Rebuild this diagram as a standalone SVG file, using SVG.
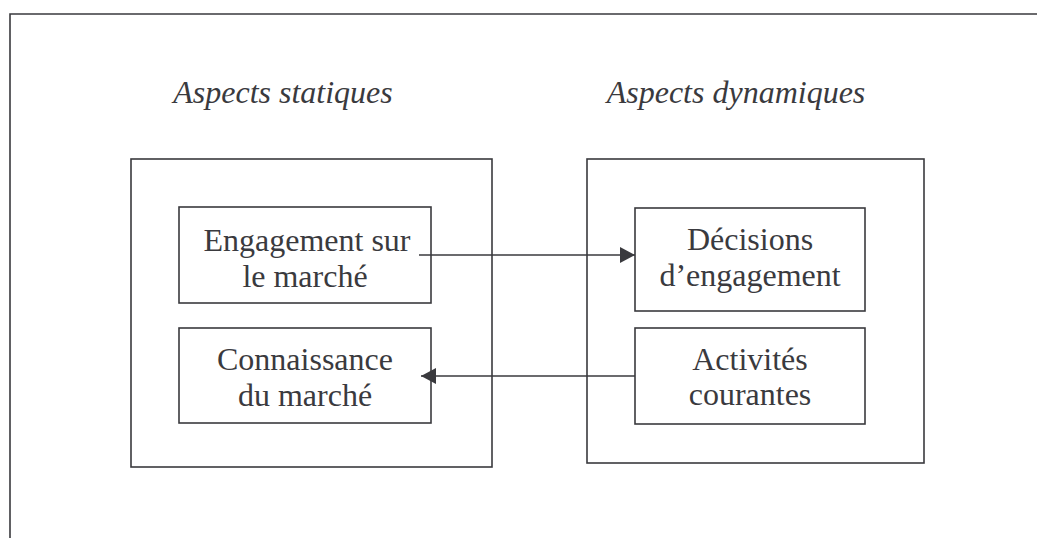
<svg xmlns="http://www.w3.org/2000/svg" width="1037" height="538" viewBox="0 0 1037 538">
  <defs>
    <style>
      .box { fill: none; stroke: #3a3a3e; stroke-width: 1.6; }
      .lbl { font-family: "Liberation Serif", "Times New Roman", serif; font-size: 32px; fill: #3a3a3e; text-anchor: middle; }
      .ttl { font-style: italic; }
      .conn { stroke: #3a3a3e; stroke-width: 1.6; fill: none; }
    </style>
    <marker id="ah" viewBox="0 0 15 16" refX="15" refY="8" markerWidth="15" markerHeight="16" markerUnits="userSpaceOnUse" orient="auto">
      <path d="M0,0 L15,8 L0,16 Z" fill="#3a3a3e"/>
    </marker>
  </defs>
  <rect width="1037" height="538" fill="#ffffff"/>
  <g id="frame">
    <path class="box" d="M10,538 L10,14 L1037,14"/>
  </g>
  <g id="title-static">
    <text class="lbl ttl" x="283" y="103">Aspects statiques</text>
  </g>
  <g id="title-dynamic">
    <text class="lbl ttl" x="736" y="103">Aspects dynamiques</text>
  </g>
  <g id="static-group">
    <rect class="box" x="131" y="159" width="361" height="308"/>
  </g>
  <g id="dynamic-group">
    <rect class="box" x="587" y="159" width="337" height="304"/>
  </g>
  <g id="engagement-marche">
    <rect class="box" x="179" y="207" width="252" height="96"/>
    <text class="lbl" x="307" y="251">Engagement sur</text>
    <text class="lbl" x="305" y="287">le marché</text>
  </g>
  <g id="connaissance-marche">
    <rect class="box" x="179" y="328" width="252" height="95"/>
    <text class="lbl" x="305" y="370">Connaissance</text>
    <text class="lbl" x="305" y="406">du marché</text>
  </g>
  <g id="decisions-engagement">
    <rect class="box" x="635" y="208" width="230" height="103"/>
    <text class="lbl" x="750" y="250">Décisions</text>
    <text class="lbl" x="750" y="286">d’engagement</text>
  </g>
  <g id="activites-courantes">
    <rect class="box" x="635" y="328" width="230" height="96"/>
    <text class="lbl" x="750" y="370">Activités</text>
    <text class="lbl" x="750" y="405">courantes</text>
  </g>
  <g id="connectors">
    <line class="conn" x1="419" y1="255" x2="635" y2="255" marker-end="url(#ah)"/>
    <line class="conn" x1="635" y1="376" x2="421" y2="376" marker-end="url(#ah)"/>
  </g>
</svg>
